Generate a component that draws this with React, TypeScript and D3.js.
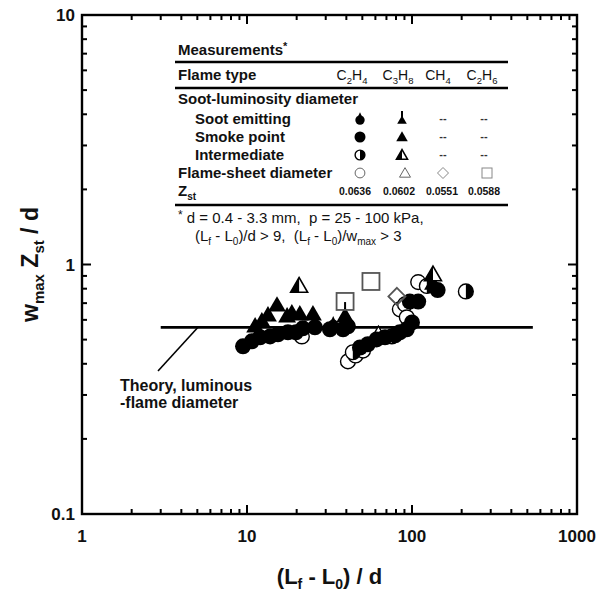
import React from "react";
import * as d3 from "d3";

// ---------- data ----------
const xTickValues = [1, 10, 100, 1000];
const yTickValues = [0.1, 1, 10];
const xTickLabels = ["1", "10", "100", "1000"];
const yTickLabels = ["0.1", "1", "10"];

const theoryX = [3, 540];
const theoryY = [0.56, 0.56];

// C2H4 flame-sheet diameter (open circles)
const c2h4SheetX = [21.5, 40.9, 45.5, 50.5, 84.4, 90.7, 93, 109];
const c2h4SheetY = [0.515, 0.409, 0.432, 0.452, 0.661, 0.692, 0.614, 0.85];
// C3H8 flame-sheet diameter (open triangles)
const c3h8SheetX = [62.6];
const c3h8SheetY = [0.52];
// CH4 flame-sheet diameter (open diamonds)
const ch4SheetX = [81];
const ch4SheetY = [0.745];
// C2H6 flame-sheet diameter (open squares)
const c2h6SheetX = [39.3, 56.4];
const c2h6SheetY = [0.711, 0.855];

// C2H4 intermediate (half-filled circles)
const c2h4InterX = [43.8, 75.5, 123, 212];
const c2h4InterY = [0.445, 0.515, 0.82, 0.78];
// C3H8 intermediate (half-filled triangles)
const c3h8InterX = [20.7, 134];
const c3h8InterY = [0.81, 0.9];

// C2H4 smoke point (filled circles)
const c2h4SmokeX = [9.46, 10.7, 12.0, 13.8, 15.4, 17.7, 19.8, 21.8, 25.8, 31.8, 38.2, 40.9, 48.4, 54, 61, 68.6, 79, 84.4, 93, 100, 97, 109, 143];
const c2h4SmokeY = [0.47, 0.492, 0.511, 0.515, 0.525, 0.535, 0.535, 0.555, 0.56, 0.55, 0.55, 0.565, 0.465, 0.479, 0.501, 0.511, 0.52, 0.535, 0.55, 0.586, 0.71, 0.71, 0.79];
// C3H8 smoke point (filled triangles)
const c3h8SmokeX = [11.2, 12.3, 13.4, 15.2, 17.5, 18.7, 20.9, 25.1, 39.3, 134];
const c3h8SmokeY = [0.56, 0.586, 0.62, 0.679, 0.614, 0.631, 0.625, 0.625, 0.614, 0.83];

// Soot emitting
const c2h4SootX = [33.3];
const c2h4SootY = [0.58];
const c3h8SootX = [39.3];
const c3h8SootY = [0.64];

const fuels = ["C2H4", "C3H8", "CH4", "C2H6"];
const zst = ["0.0636", "0.0602", "0.0551", "0.0588"];

// ---------- layout ----------
const W = 611;
const H = 595;
const L = 82, R = 577, T = 15, B = 514;
const FONT = "'Liberation Sans', Arial, Helvetica, sans-serif";

const x = d3.scaleLog().domain([1, 1000]).range([L, R]);
const y = d3.scaleLog().domain([0.1, 10]).range([B, T]);

type Sym =
  | "filledCircle" | "openCircle" | "halfCircle"
  | "filledTri" | "openTri" | "halfTri"
  | "sootCircle" | "sootTri" | "openDiamond" | "openSquare";

function triPts(cx: number, cy: number, s: number) {
  const h = s * 0.866;
  return {
    apex: [cx, cy - (2 * h) / 3],
    bl: [cx - s / 2, cy + h / 3],
    br: [cx + s / 2, cy + h / 3],
  };
}

function Marker({ type, cx, cy, size, gray }: { type: Sym; cx: number; cy: number; size: number; gray?: boolean }) {
  const r = size / 2;
  const sc = gray ? "#666" : "#000";
  switch (type) {
    case "filledCircle":
      return <circle cx={cx} cy={cy} r={r} fill="#000" />;
    case "openCircle":
      return <circle cx={cx} cy={cy} r={r - 0.6} fill="#fff" stroke={sc} strokeWidth={gray ? 1 : 1.4} />;
    case "halfCircle": {
      const rr = r - 0.6;
      return (
        <g>
          <circle cx={cx} cy={cy} r={rr} fill="#fff" stroke="#000" strokeWidth={1.4} />
          <path d={`M${cx},${cy - rr} A${rr},${rr} 0 0 1 ${cx},${cy + rr} Z`} fill="#000" />
        </g>
      );
    }
    case "filledTri": {
      const p = triPts(cx, cy, size * 1.05);
      return <polygon points={`${p.apex} ${p.bl} ${p.br}`} fill="#000" />;
    }
    case "openTri": {
      const p = triPts(cx, cy, size);
      return <polygon points={`${p.apex} ${p.bl} ${p.br}`} fill="#fff" stroke={sc} strokeWidth={gray ? 1 : 1.4} strokeLinejoin="miter" />;
    }
    case "halfTri": {
      const p = triPts(cx, cy, size);
      const mid = [cx, p.bl[1]];
      return (
        <g>
          <polygon points={`${p.apex} ${p.bl} ${p.br}`} fill="#fff" stroke="#000" strokeWidth={1.6} />
          <polygon points={`${p.apex} ${p.bl} ${mid}`} fill="#000" />
        </g>
      );
    }
    case "sootCircle": {
      const rr = r * 0.85;
      return (
        <g>
          <circle cx={cx} cy={cy + r * 0.2} r={rr} fill="#000" />
          <path d={`M${cx - rr * 0.45},${cy - rr * 0.5} L${cx},${cy - r * 1.25} L${cx + rr * 0.45},${cy - rr * 0.5} Z`} fill="#000" />
        </g>
      );
    }
    case "sootTri": {
      const p = triPts(cx, cy + r * 0.35, size * 0.8);
      return (
        <g>
          <polygon points={`${p.apex} ${p.bl} ${p.br}`} fill="#000" />
          <line x1={cx} x2={cx} y1={cy + r * 0.5} y2={cy - r * 1.35} stroke="#000" strokeWidth={2} />
        </g>
      );
    }
    case "openDiamond":
      return (
        <polygon
          points={`${cx},${cy - r} ${cx + r},${cy} ${cx},${cy + r} ${cx - r},${cy}`}
          fill="none" stroke={gray ? "#888" : "#555"} strokeWidth={gray ? 1 : 1.8}
        />
      );
    case "openSquare":
      return <rect x={cx - r} y={cy - r} width={size} height={size} fill="none" stroke={gray ? "#888" : "#555"} strokeWidth={gray ? 1 : 1.8} />;
  }
  return null;
}

function Series({ xs, ys, type, size }: { xs: number[]; ys: number[]; type: Sym; size: number }) {
  return (
    <g>
      {xs.map((v, i) => (
        <Marker key={i} type={type} cx={x(v)} cy={y(ys[i])} size={size} />
      ))}
    </g>
  );
}

function Chem({ f, x0, y0, size, anchor, weight }: { f: string; x0: number; y0: number; size: number; anchor?: string; weight?: string }) {
  const parts: React.ReactNode[] = [];
  let prevSub = false;
  for (let i = 0; i < f.length; i++) {
    const ch = f[i];
    const isDigit = /[0-9]/.test(ch);
    if (isDigit) {
      parts.push(
        <tspan key={i} dy={prevSub ? 0 : size * 0.28} fontSize={size * 0.68}>{ch}</tspan>
      );
      prevSub = true;
    } else {
      parts.push(
        <tspan key={i} dy={prevSub ? -size * 0.28 : 0} fontSize={size}>{ch}</tspan>
      );
      prevSub = false;
    }
  }
  return (
    <text x={x0} y={y0} textAnchor={(anchor as any) || "middle"} fontFamily={FONT} fontWeight={weight || "normal"} fill="#111">
      {parts}
    </text>
  );
}

function ticksMinor(lo: number, hi: number) {
  const out: number[] = [];
  for (let d = lo; d < hi; d *= 10) {
    for (let k = 2; k <= 9; k++) out.push(d * k);
  }
  return out;
}

export default function App() {
  const xMinor = ticksMinor(1, 1000);
  const yMinor = ticksMinor(0.1, 10);
  const MJ = 9, MN = 5;

  const colX = [360, 402, 443, 484];
  const hdrX = [352, 398, 438, 482];
  const labX = 178, indX = 195;
  const rowY = {
    meas: 55, flame: 80, soot: 104, emit: 124, smoke: 142, inter: 160, sheet: 178, zst: 196, note1: 223, note2: 241,
  };
  const lineX1 = 175, lineX2 = 508;

  const lf = 15;

  return (
    <svg width={W} height={H} style={{ position: "absolute", left: 0, top: 0, background: "#fff" }} fontFamily={FONT}>
      <rect x={0} y={0} width={W} height={H} fill="#fff" />

      {/* theory line */}
      <line x1={x(theoryX[0])} x2={x(theoryX[1])} y1={y(theoryY[0])} y2={y(theoryY[1])} stroke="#000" strokeWidth={2.6} />
      <line x1={198} y1={y(theoryY[0])} x2={158} y2={371} stroke="#000" strokeWidth={1.6} />
      <text x={120} y={391} fontSize={16} fontWeight="bold" fill="#111">Theory, luminous</text>
      <text x={120} y={408} fontSize={16} fontWeight="bold" fill="#111">-flame diameter</text>

      {/* data */}
      <Series xs={c2h4SheetX} ys={c2h4SheetY} type="openCircle" size={16} />
      <Series xs={c3h8SheetX} ys={c3h8SheetY} type="openTri" size={16} />
      <Series xs={c2h4InterX} ys={c2h4InterY} type="halfCircle" size={16} />
      <Series xs={c2h4SmokeX} ys={c2h4SmokeY} type="filledCircle" size={16} />
      <Series xs={c3h8SmokeX} ys={c3h8SmokeY} type="filledTri" size={17} />
      <Series xs={c3h8InterX} ys={c3h8InterY} type="halfTri" size={17} />
      <Series xs={c2h4SootX} ys={c2h4SootY} type="sootCircle" size={12} />
      <Series xs={c3h8SootX} ys={c3h8SootY} type="sootTri" size={16} />
      <Series xs={ch4SheetX} ys={ch4SheetY} type="openDiamond" size={17} />
      <Series xs={c2h6SheetX} ys={c2h6SheetY} type="openSquare" size={17} />

      {/* frame */}
      <rect x={L} y={T} width={R - L} height={B - T} fill="none" stroke="#000" strokeWidth={2.4} />
      {xTickValues.map((v) => (
        <g key={"xm" + v}>
          <line x1={x(v)} x2={x(v)} y1={B} y2={B - MJ} stroke="#000" strokeWidth={2} />
          <line x1={x(v)} x2={x(v)} y1={T} y2={T + MJ} stroke="#000" strokeWidth={2} />
        </g>
      ))}
      {xMinor.map((v) => (
        <g key={"xn" + v}>
          <line x1={x(v)} x2={x(v)} y1={B} y2={B - MN} stroke="#000" strokeWidth={2} />
          <line x1={x(v)} x2={x(v)} y1={T} y2={T + MN} stroke="#000" strokeWidth={2} />
        </g>
      ))}
      {yTickValues.map((v) => (
        <g key={"ym" + v}>
          <line x1={L} x2={L + MJ} y1={y(v)} y2={y(v)} stroke="#000" strokeWidth={2} />
          <line x1={R} x2={R - MJ} y1={y(v)} y2={y(v)} stroke="#000" strokeWidth={2} />
        </g>
      ))}
      {yMinor.map((v) => (
        <g key={"yn" + v}>
          <line x1={L} x2={L + MN} y1={y(v)} y2={y(v)} stroke="#000" strokeWidth={2} />
          <line x1={R} x2={R - MN} y1={y(v)} y2={y(v)} stroke="#000" strokeWidth={2} />
        </g>
      ))}

      {/* tick labels */}
      {xTickValues.map((v, i) => (
        <text key={"xl" + v} x={x(v)} y={542} textAnchor="middle" fontSize={17} fontWeight="bold" fill="#111">{xTickLabels[i]}</text>
      ))}
      {yTickValues.map((v, i) => (
        <text key={"yl" + v} x={75} y={y(v) + 6} textAnchor="end" fontSize={17} fontWeight="bold" fill="#111">{yTickLabels[i]}</text>
      ))}

      {/* axis titles */}
      <text x={(L + R) / 2} y={584} textAnchor="middle" fontSize={22} fontWeight="bold" fill="#111" style={{ whiteSpace: "pre" }}>
        (L<tspan dy={5} fontSize={14}>f</tspan><tspan dy={-5}> - L</tspan><tspan dy={5} fontSize={14}>0</tspan><tspan dy={-5}>) / d</tspan>
      </text>
      <text transform={`translate(38,${(T + B) / 2}) rotate(-90)`} textAnchor="middle" fontSize={23} fontWeight="bold" fill="#111" style={{ whiteSpace: "pre" }}>
        w<tspan dy={6} fontSize={15}>max</tspan><tspan dy={-6}> Z</tspan><tspan dy={6} fontSize={15}>st</tspan><tspan dy={-6}> / d</tspan>
      </text>

      {/* legend table */}
      <text x={labX} y={rowY.meas} fontSize={lf} fontWeight="bold" fill="#111">Measurements<tspan dy={-5} fontSize={11}>*</tspan></text>
      <line x1={lineX1} x2={lineX2} y1={62} y2={62} stroke="#000" strokeWidth={2.4} />
      <text x={labX} y={rowY.flame} fontSize={lf} fontWeight="bold" fill="#111">Flame type</text>
      {fuels.map((f, i) => (
        <Chem key={f} f={f} x0={hdrX[i]} y0={rowY.flame} size={14} />
      ))}
      <line x1={lineX1} x2={lineX2} y1={88} y2={88} stroke="#000" strokeWidth={2.4} />
      <text x={labX} y={rowY.soot} fontSize={lf} fontWeight="bold" fill="#111">Soot-luminosity diameter</text>
      <text x={indX} y={rowY.emit} fontSize={lf} fontWeight="bold" fill="#111">Soot emitting</text>
      <text x={indX} y={rowY.smoke} fontSize={lf} fontWeight="bold" fill="#111">Smoke point</text>
      <text x={indX} y={rowY.inter} fontSize={lf} fontWeight="bold" fill="#111">Intermediate</text>
      <text x={labX} y={rowY.sheet} fontSize={lf} fontWeight="bold" fill="#111">Flame-sheet diameter</text>
      <text x={labX} y={rowY.zst} fontSize={lf} fontWeight="bold" fill="#111">Z<tspan dy={4} fontSize={10}>st</tspan></text>

      <Marker type="sootCircle" cx={colX[0]} cy={rowY.emit - 5} size={11} />
      <Marker type="sootTri" cx={colX[1]} cy={rowY.emit - 5} size={12} />
      <Marker type="filledCircle" cx={colX[0]} cy={rowY.smoke - 5} size={11} />
      <Marker type="filledTri" cx={colX[1]} cy={rowY.smoke - 4} size={11} />
      <Marker type="halfCircle" cx={colX[0]} cy={rowY.inter - 5} size={11} />
      <Marker type="halfTri" cx={colX[1]} cy={rowY.inter - 4} size={11} />
      {[rowY.emit, rowY.smoke, rowY.inter].map((ry) => (
        <g key={"dash" + ry}>
          <text x={colX[2]} y={ry - 2} textAnchor="middle" fontSize={11} fontWeight="bold" fill="#333">--</text>
          <text x={colX[3]} y={ry - 2} textAnchor="middle" fontSize={11} fontWeight="bold" fill="#333">--</text>
        </g>
      ))}
      <Marker type="openCircle" cx={colX[0]} cy={rowY.sheet - 5} size={11} gray />
      <Marker type="openTri" cx={colX[1] + 3} cy={rowY.sheet - 4} size={11} gray />
      <Marker type="openDiamond" cx={colX[2]} cy={rowY.sheet - 5} size={11} gray />
      <Marker type="openSquare" cx={colX[3] + 3} cy={rowY.sheet - 5} size={10} gray />
      {zst.map((z, i) => (
        <text key={z} x={[355, 399, 442, 484][i]} y={rowY.zst - 1} textAnchor="middle" fontSize={10.5} fontWeight="bold" fill="#111">{z}</text>
      ))}
      <line x1={lineX1} x2={lineX2} y1={205} y2={205} stroke="#000" strokeWidth={2.6} />

      <text x={labX} y={rowY.note1} fontSize={lf} fill="#111" style={{ whiteSpace: "pre" }}>
        <tspan dy={-4} fontSize={12}>*</tspan><tspan dy={4}> d = 0.4 - 3.3 mm,  p = 25 - 100 kPa,</tspan>
      </text>
      <text x={indX} y={rowY.note2} fontSize={lf} fill="#111" style={{ whiteSpace: "pre" }}>
        (L<tspan dy={4} fontSize={10}>f</tspan><tspan dy={-4}> - L</tspan><tspan dy={4} fontSize={10}>0</tspan><tspan dy={-4}>)/d &gt; 9,  (L</tspan><tspan dy={4} fontSize={10}>f</tspan><tspan dy={-4}> - L</tspan><tspan dy={4} fontSize={10}>0</tspan><tspan dy={-4}>)/w</tspan><tspan dy={4} fontSize={10}>max</tspan><tspan dy={-4}> &gt; 3</tspan>
      </text>
    </svg>
  );
}
